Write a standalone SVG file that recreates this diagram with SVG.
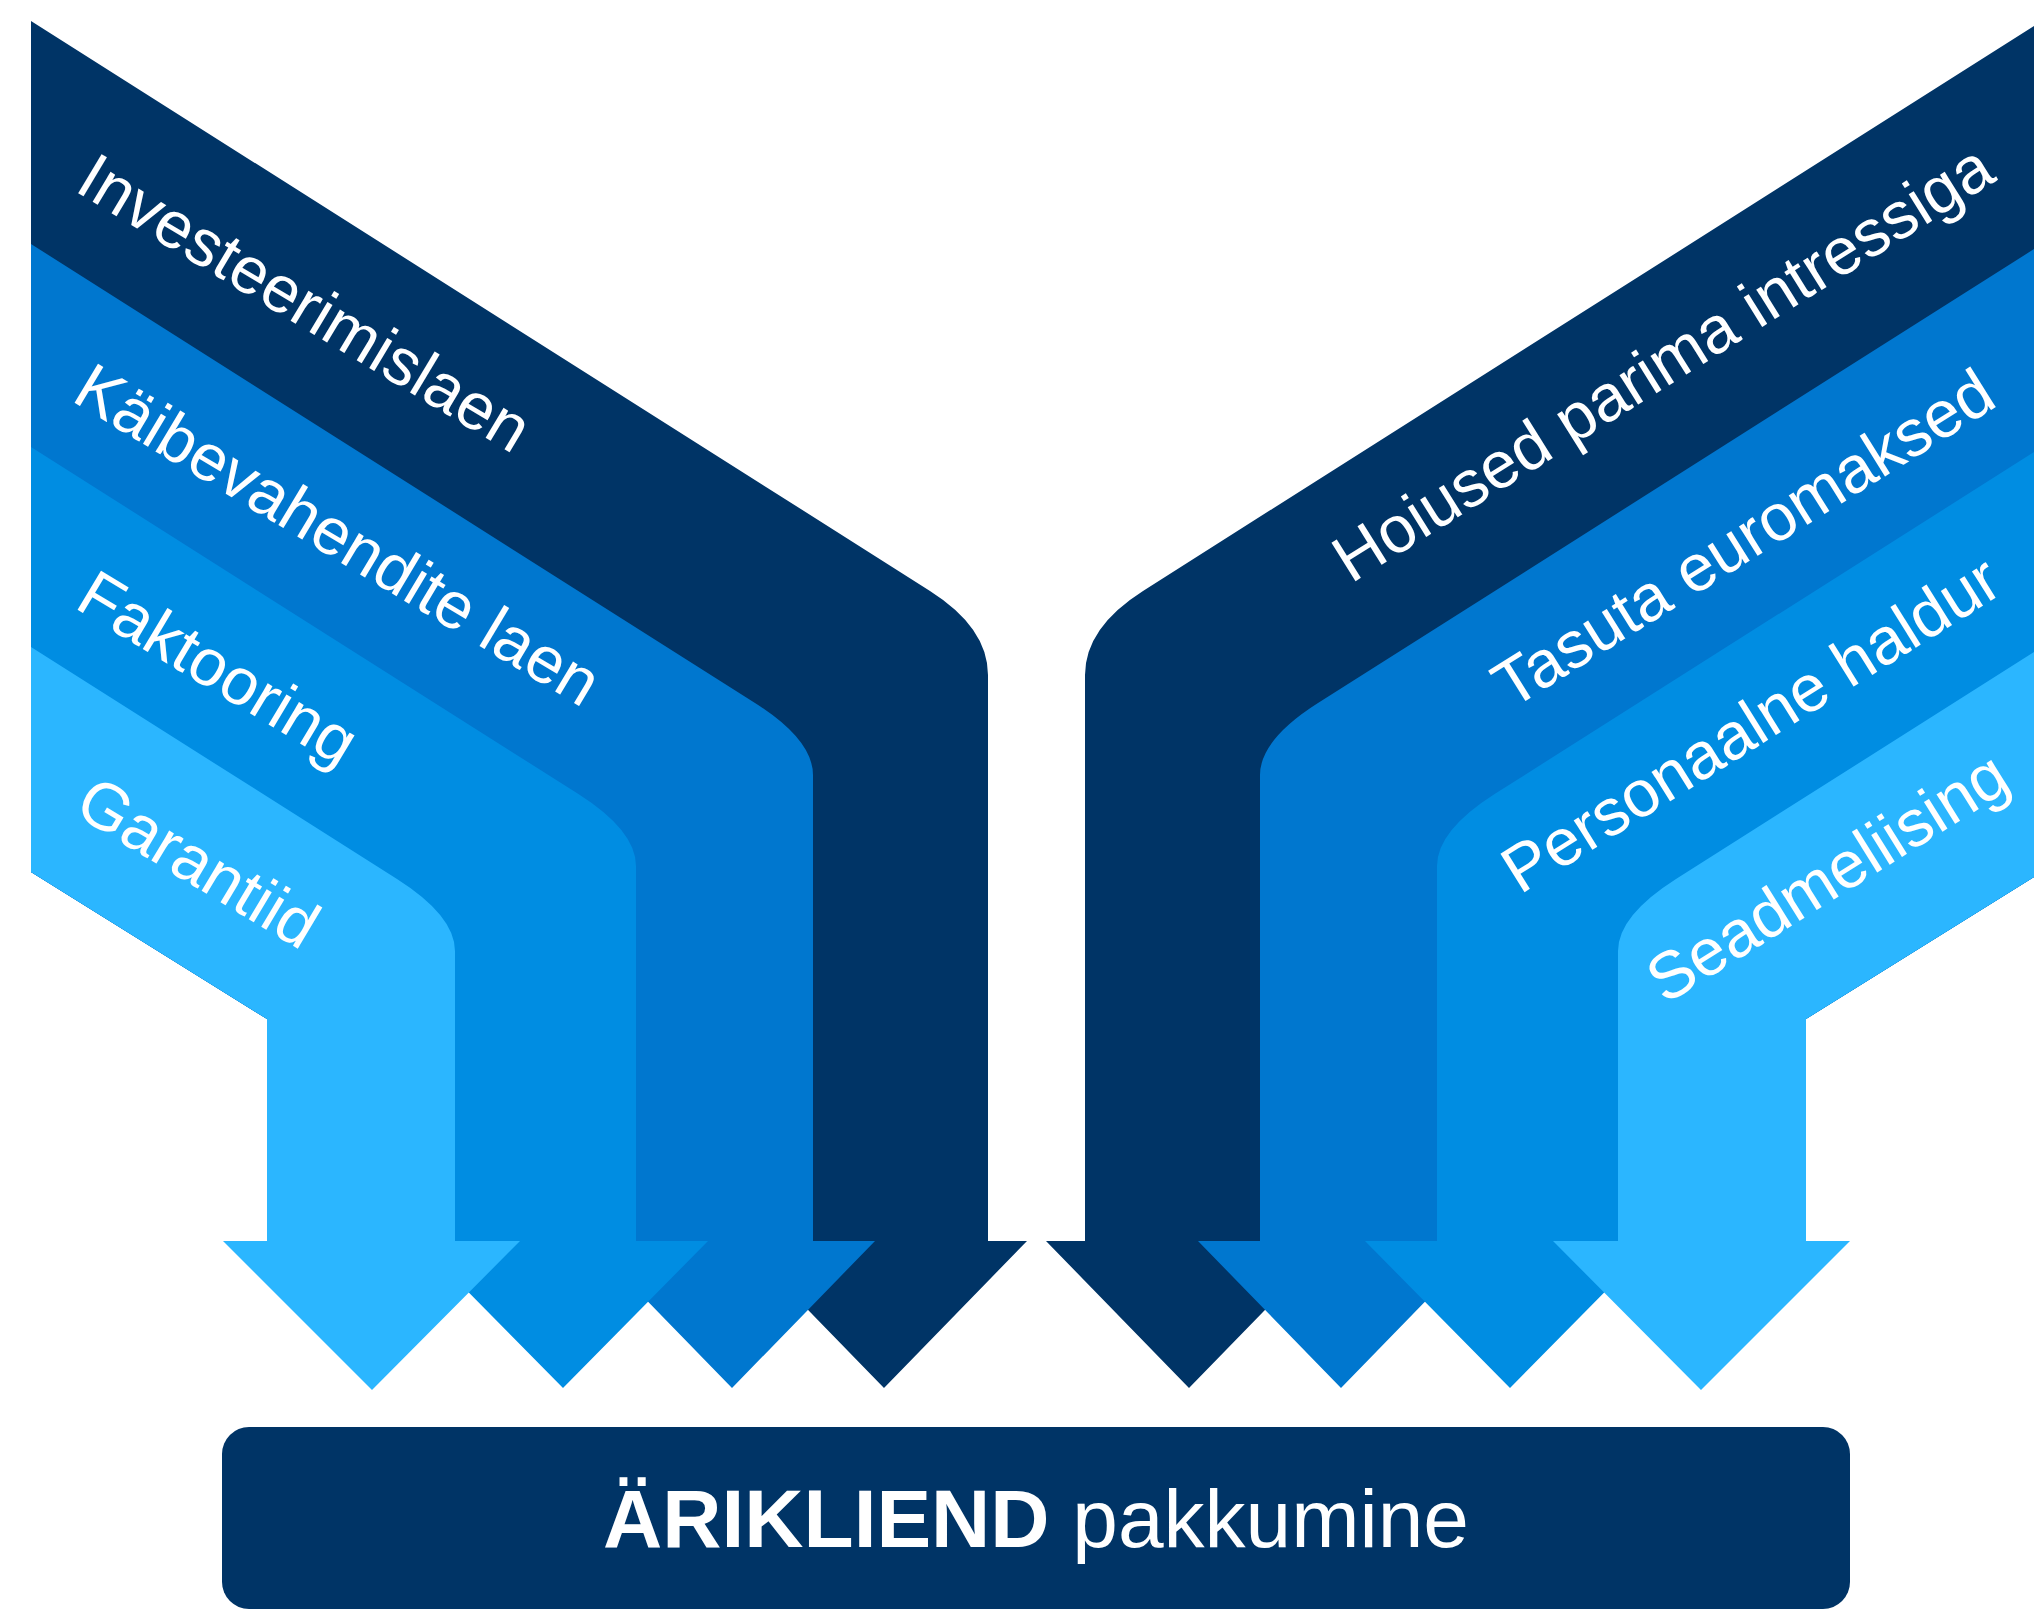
<svg xmlns="http://www.w3.org/2000/svg" width="2034" height="1609" viewBox="0 0 2034 1609">
<style>
.b0{fill:#003466}
.b1{fill:#0077CF}
.b2{fill:#008DE2}
.b3{fill:#2BB6FF}
.lbl{font-family:"Liberation Sans",Arial,sans-serif;font-size:66px;fill:#FFFFFF}
.title{font-family:"Liberation Sans",Arial,sans-serif;font-size:82px;fill:#FFFFFF}
</style>
<defs>
<path id="band0" d="M31,21 L930,590.9 Q988,627.7 988,675 L988,1241 L1027,1241 L884,1388 L741,1241 L267,1241 L267,1019 L31,872 Z"/>
<path id="band1" d="M31,244 L755,703 Q813,739.8 813,775 L813,1241 L875,1241 L732,1388 L589,1241 L267,1241 L267,1019 L31,872 Z"/>
<path id="band2" d="M31,447 L578,793.8 Q636,830.6 636,866 L636,1241 L708,1241 L563,1388 L418,1241 L267,1241 L267,1019 L31,872 Z"/>
<path id="band3" d="M31,647 L397,879 Q455,915.8 455,951 L455,1241 L520,1241 L372,1390 L223,1241 L267,1241 L267,1019 L31,872 Z"/>
</defs>
<rect width="2034" height="1609" fill="#FFFFFF"/>
<g id="left-investeerimislaen"><use href="#band0" class="b0"/></g>
<g id="left-kaibevahendite"><use href="#band1" class="b1"/></g>
<g id="left-faktooring"><use href="#band2" class="b2"/></g>
<g id="left-garantiid"><use href="#band3" class="b3"/></g>
<g id="right-hoiused"><use href="#band0" class="b0" transform="matrix(-1,0,0,1,2073,0)"/></g>
<g id="right-tasuta"><use href="#band1" class="b1" transform="matrix(-1,0,0,1,2073,0)"/></g>
<g id="right-personaalne"><use href="#band2" class="b2" transform="matrix(-1,0,0,1,2073,0)"/></g>
<g id="right-seadmeliising"><use href="#band3" class="b3" transform="matrix(-1,0,0,1,2073,0)"/></g>
<g id="labels">
<text class="lbl" transform="translate(73,190) rotate(31)">Investeerimislaen</text>
<text class="lbl" transform="translate(70,400) rotate(31)">Käibevahendite laen</text>
<text class="lbl" transform="translate(73,607) rotate(31)">Faktooring</text>
<text class="lbl" transform="translate(72,813) rotate(31)">Garantiid</text>
<text class="lbl" transform="translate(1351,584) rotate(-32)">Hoiused parima intressiga</text>
<text class="lbl" transform="translate(1511,710) rotate(-32)">Tasuta euromaksed</text>
<text class="lbl" transform="translate(1520,895) rotate(-32)">Personaalne haldur</text>
<text class="lbl" transform="translate(1665,1005) rotate(-32)">Seadmeliising</text>
</g>
<g id="ariklient">
<rect x="222" y="1427" width="1628" height="182" rx="27" ry="27" class="b0"/>
<text class="title" x="1036" y="1547" text-anchor="middle"><tspan font-weight="bold">ÄRIKLIEND</tspan> pakkumine</text>
</g>
<g id="connectors"/>
</svg>
